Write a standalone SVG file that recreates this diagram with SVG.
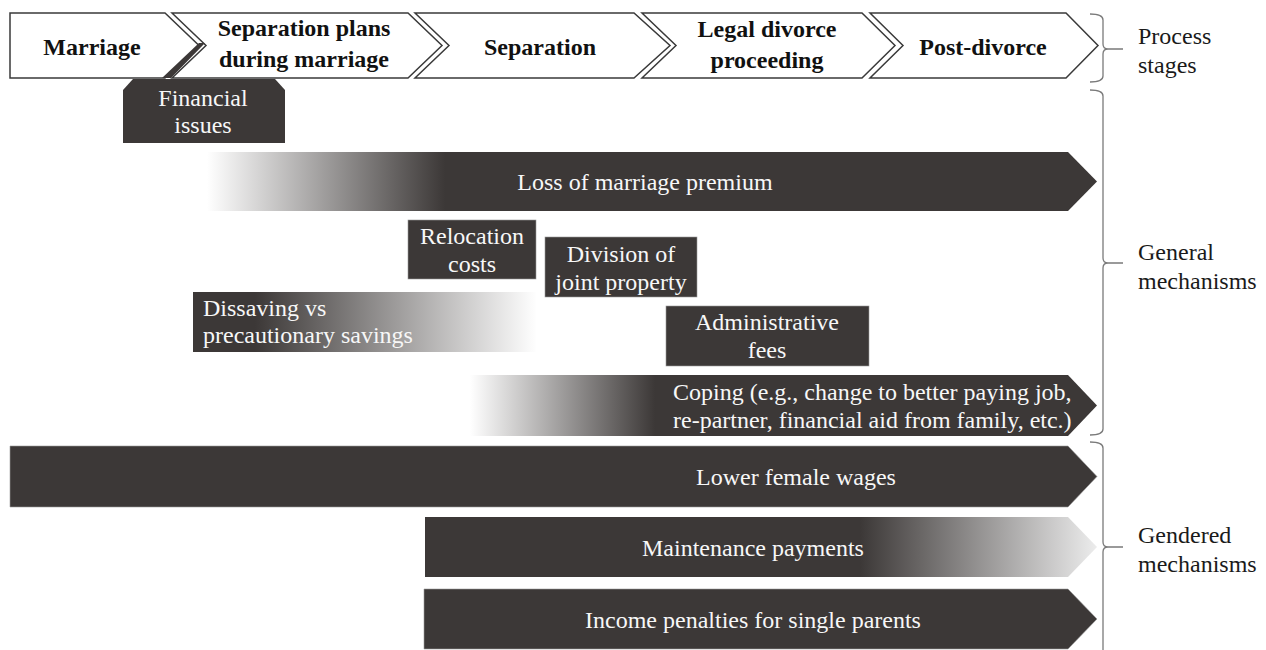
<svg xmlns="http://www.w3.org/2000/svg" width="1266" height="650" viewBox="0 0 1266 650">
<style>
.chev{fill:#ffffff;stroke:#3a3a3a;stroke-width:1.5;stroke-linejoin:miter}
.bar{stroke:#9a9a9a;stroke-width:0.6}
.dark{fill:#3c3837}
text{font-family:'Liberation Serif',Tinos,'Times New Roman','DejaVu Serif',serif;font-size:24px}
.ht{font-weight:bold;fill:#111;text-anchor:middle}
.wt{fill:#f7f7f7;text-anchor:middle}
.wl{fill:#f7f7f7}
.lt{fill:#1a1a1a}
.brace{fill:none;stroke:#7a7a7a;stroke-width:1.3}
</style>
<defs>
<linearGradient id="gLoss" gradientUnits="userSpaceOnUse" x1="207" y1="0" x2="445" y2="0">
<stop offset="0" stop-color="#ffffff"/><stop offset="1" stop-color="#3c3837"/>
</linearGradient>
<linearGradient id="gDiss" gradientUnits="userSpaceOnUse" x1="255" y1="0" x2="537" y2="0">
<stop offset="0" stop-color="#3c3837"/><stop offset="1" stop-color="#ffffff"/>
</linearGradient>
<linearGradient id="gCope" gradientUnits="userSpaceOnUse" x1="470" y1="0" x2="655" y2="0">
<stop offset="0" stop-color="#ffffff"/><stop offset="1" stop-color="#3c3837"/>
</linearGradient>
<linearGradient id="gMaint" gradientUnits="userSpaceOnUse" x1="860" y1="0" x2="1097" y2="0">
<stop offset="0" stop-color="#3c3837"/><stop offset="1" stop-color="#ececec"/>
</linearGradient>
</defs>

<g id="stage-marriage">
<polygon class="chev" points="10,13 165,13 199,45.5 165,78 10,78"/>
<text class="ht" x="92" y="55">Marriage</text>
</g>
<g id="stage-plans">
<polygon class="chev" points="172,13 408,13 442,45.5 408,78 172,78 206,45.5"/>
<text class="ht" x="304" y="36">Separation plans</text>
<text class="ht" x="304" y="67">during marriage</text>
</g>
<g id="stage-separation">
<polygon class="chev" points="415,13 634,13 670,45.5 634,78 415,78 449,45.5"/>
<text class="ht" x="540" y="55">Separation</text>
</g>
<g id="stage-legal">
<polygon class="chev" points="642,13 862,13 895,45.5 862,78 642,78 676,45.5"/>
<text class="ht" x="767" y="37">Legal divorce</text>
<text class="ht" x="767" y="68">proceeding</text>
</g>
<g id="stage-post">
<polygon class="chev" points="870,13 1066,13 1098,45.5 1066,78 870,78 903,45.5"/>
<text class="ht" x="983" y="55">Post-divorce</text>
</g>

<g id="financial-issues">
<polygon class="dark" points="162,78 171,78 205,43 199,43"/>
<polygon class="dark" points="123,90 133,79 275,79 285,90 285,143 123,143"/>
<text class="wt" x="203" y="106">Financial</text>
<text class="wt" x="203" y="133">issues</text>
</g>

<g id="loss-marriage-premium">
<polygon fill="url(#gLoss)" points="207,152 1068,152 1097,181.5 1068,211 207,211"/>
<text class="wt" x="645" y="190">Loss of marriage premium</text>
</g>

<g id="relocation-costs">
<rect class="bar dark" x="408" y="220" width="128" height="59"/>
<text class="wt" x="472" y="244">Relocation</text>
<text class="wt" x="472" y="272">costs</text>
</g>

<g id="division-property">
<rect class="bar dark" x="545" y="237" width="152" height="60"/>
<text class="wt" x="621" y="262">Division of</text>
<text class="wt" x="621" y="290">joint property</text>
</g>

<g id="dissaving">
<rect fill="url(#gDiss)" x="193" y="292" width="343" height="60"/>
<text class="wl" x="203" y="316">Dissaving vs</text>
<text class="wl" x="203" y="343">precautionary savings</text>
</g>

<g id="administrative-fees">
<rect class="bar dark" x="666" y="306" width="203" height="60"/>
<text class="wt" x="767" y="330">Administrative</text>
<text class="wt" x="767" y="358">fees</text>
</g>

<g id="coping">
<polygon fill="url(#gCope)" points="470,375 1068,375 1097,405.5 1068,436 470,436"/>
<text class="wl" x="673" y="400">Coping (e.g., change to better paying job,</text>
<text class="wl" x="673" y="428">re-partner, financial aid from family, etc.)</text>
</g>

<g id="lower-female-wages">
<polygon class="bar dark" points="10,446 1068,446 1097,476.5 1068,507 10,507"/>
<text class="wt" x="796" y="485">Lower female wages</text>
</g>

<g id="maintenance-payments">
<polygon fill="url(#gMaint)" points="425,517 1068,517 1097,547 1068,577 425,577"/>
<text class="wt" x="753" y="556">Maintenance payments</text>
</g>

<g id="income-penalties">
<polygon class="bar dark" points="424,589 1068,589 1097,619 1068,649 424,649"/>
<text class="wt" x="753" y="628">Income penalties for single parents</text>
</g>

<g id="connectors">
<path class="brace" d="M1090,14 Q1103,14 1103,20 L1103,44 Q1103,49 1108,49 Q1103,49 1103,54 L1103,76 Q1103,82 1090,82 M1108,49 L1123,49"/>
<path class="brace" d="M1090,90 Q1103,90 1103,96 L1103,258 Q1103,263 1108,263 Q1103,263 1103,268 L1103,429 Q1103,435 1090,435 M1108,263 L1123,263"/>
<path class="brace" d="M1090,442 Q1103,442 1103,448 L1103,542 Q1103,547 1108,547 Q1103,547 1103,552 L1103,660 M1108,547 L1123,547"/>
</g>

<g id="label-process">
<text class="lt" x="1138" y="44">Process</text>
<text class="lt" x="1138" y="73">stages</text>
</g>
<g id="label-general">
<text class="lt" x="1138" y="260">General</text>
<text class="lt" x="1138" y="289">mechanisms</text>
</g>
<g id="label-gendered">
<text class="lt" x="1138" y="543">Gendered</text>
<text class="lt" x="1138" y="572">mechanisms</text>
</g>
</svg>
